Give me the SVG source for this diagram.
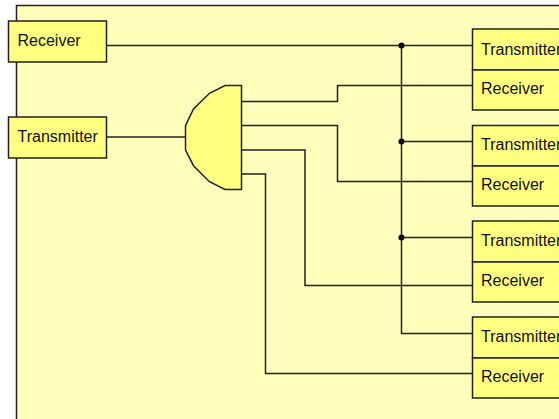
<svg xmlns="http://www.w3.org/2000/svg" width="559" height="419" viewBox="0 0 559 419">
<style>
.box{fill:#ffff80;stroke:#222;stroke-width:1.5}
.wire{fill:none;stroke:#222;stroke-width:1.5}
.dot{fill:#000}
text{font-family:"Liberation Sans",Arial,sans-serif;font-size:16px;fill:#111}
</style>
<rect id="frame" x="16.5" y="5.5" width="560" height="430" fill="#ffffbb" stroke="#222" stroke-width="1.5"/>
<g id="connectors">
<path class="wire" d="M106 45.5H472"/>
<path class="wire" d="M106 137H185"/>
<path class="wire" d="M241 101.5H337.5V85.5H472"/>
<path class="wire" d="M241 125.5H337.5V181.5H472"/>
<path class="wire" d="M241 150H305V285.5H472"/>
<path class="wire" d="M241 174H265.5V373.5H472"/>
<path class="wire" d="M401.5 45.5V333.5H472"/>
<path class="wire" d="M401.5 141.5H472"/>
<path class="wire" d="M401.5 237.5H472"/>
<circle class="dot" cx="401.5" cy="45.5" r="3"/>
<circle class="dot" cx="401.5" cy="141.5" r="3"/>
<circle class="dot" cx="401.5" cy="237.5" r="3"/>
</g>
<g id="left-receiver"><rect class="box" x="8.5" y="21" width="98" height="41"/><text x="17.5" y="46">Receiver</text></g>
<g id="left-transmitter"><rect class="box" x="8.5" y="117" width="98" height="41"/><text x="17.5" y="142">Transmitter</text></g>
<g id="splitter"><polygon class="box" points="241.5,85.5 225,85.5 209.5,93.3 193.5,109 185.5,125.7 185.5,150 193.5,165.7 209.5,181.7 225,189.5 241.5,189.5"/></g>
<g id="t1"><rect class="box" x="472.5" y="29" width="100" height="41"/><text x="481" y="55">Transmitter</text></g>
<g id="r1"><rect class="box" x="472.5" y="70" width="100" height="40"/><text x="481" y="94">Receiver</text></g>
<g id="t2"><rect class="box" x="472.5" y="125.5" width="100" height="40.5"/><text x="481" y="150">Transmitter</text></g>
<g id="r2"><rect class="box" x="472.5" y="166" width="100" height="40"/><text x="481" y="190">Receiver</text></g>
<g id="t3"><rect class="box" x="472.5" y="221" width="100" height="41"/><text x="481" y="246">Transmitter</text></g>
<g id="r3"><rect class="box" x="472.5" y="262" width="100" height="40"/><text x="481" y="286">Receiver</text></g>
<g id="t4"><rect class="box" x="472.5" y="317" width="100" height="41"/><text x="481" y="342">Transmitter</text></g>
<g id="r4"><rect class="box" x="472.5" y="358" width="100" height="40"/><text x="481" y="382">Receiver</text></g>
</svg>
